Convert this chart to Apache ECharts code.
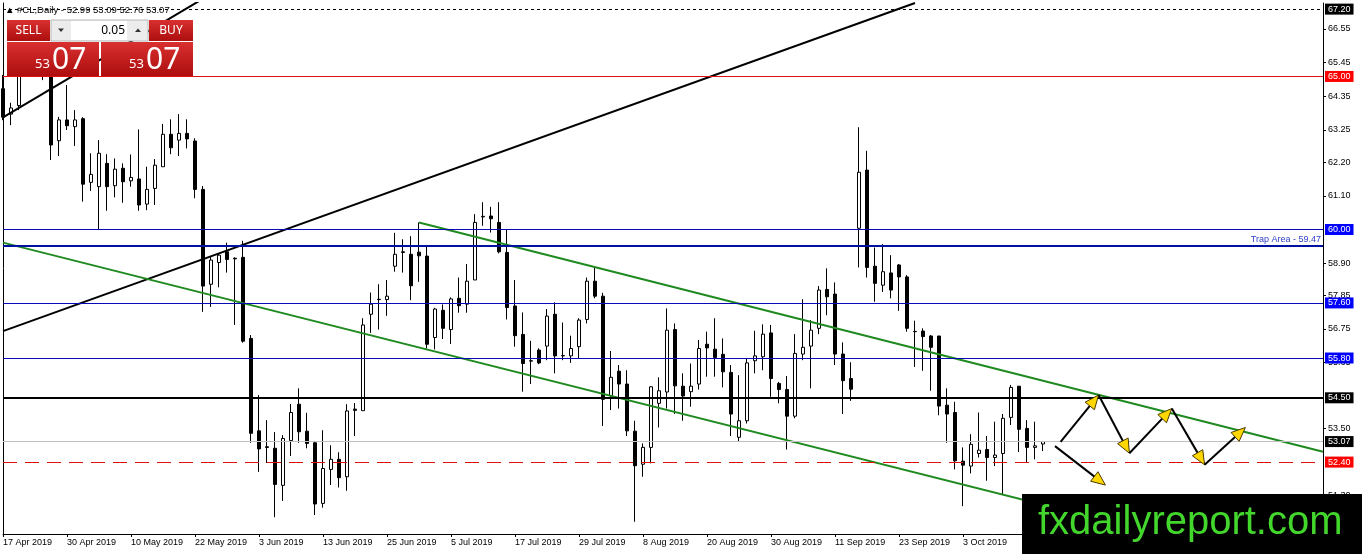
<!DOCTYPE html>
<html><head><meta charset="utf-8">
<script src="https://cdn.jsdelivr.net/npm/echarts@6/dist/echarts.min.js"></script>
<style>html,body{margin:0;padding:0;background:#fff;}#c{width:1362px;height:554px;}</style>
</head><body><div id="c"></div>
<script>
// ---- Data ----
const opens = [64.60,63.77,64.05,65.30,65.60,65.50,65.10,62.90,63.58,63.36, 63.62,61.54,61.40,62.16,61.43,62.00,61.59,61.65,60.83,61.34, 62.05,63.11,62.92,63.14,62.89,61.31,58.21,58.92,59.27,59.06, 59.09,56.44,53.42,52.90,52.85,51.64,53.10,54.29,53.41,53.03, 51.05,52.16,52.49,51.92,54.13,54.08,57.23,57.72,57.71,58.80, 59.27,59.19,59.26,59.13,56.47,57.36,56.73,57.75,57.56,58.35, 60.41,60.44,60.23,59.25,57.50,56.57,55.71,56.06,56.19,57.23, 55.87,55.87,56.17,57.06,58.31,57.82,54.57,55.37,54.95,53.41, 52.33,52.88,54.32,54.69,56.73,54.88,54.70,54.95,56.25,56.09, 55.92,55.33,53.21,53.75,55.71,55.84,56.62,54.97,54.77,53.90, 55.93,56.19,56.77,58.04,57.89,55.93,55.13,60.04,61.94,58.80, 58.18,58.58,58.84,58.45,56.67,56.68,56.52,56.52,54.26,54.02, 52.43,52.27,52.68,52.81,52.55,52.68,53.86,54.88,53.50,52.88, 52.99];
const highs = [65.05,64.14,65.60,65.90,66.10,65.80,65.40,63.68,64.72,63.90, 63.67,62.49,62.92,62.46,62.32,62.16,62.45,63.27,62.05,62.30, 63.45,63.60,63.77,63.60,62.98,61.42,59.11,59.22,59.57,59.09, 59.63,56.55,54.59,53.77,53.38,53.28,54.30,54.81,54.01,53.09, 53.44,52.95,52.72,54.29,54.33,57.10,57.94,58.21,58.35,59.89, 59.68,59.78,60.23,59.46,57.44,57.55,57.78,58.43,58.87,60.50, 60.89,60.74,60.89,60.00,58.35,57.29,56.36,56.12,57.40,57.62, 56.96,56.53,57.10,58.43,58.75,57.93,56.03,55.57,55.40,53.75, 53.01,54.88,55.17,57.42,56.93,55.30,55.62,56.39,56.66,57.10, 56.44,55.57,55.24,55.79,56.69,56.90,56.88,55.02,55.21,56.58, 57.72,57.04,58.15,58.73,58.27,56.31,55.66,63.34,62.57,59.41, 59.52,59.16,58.87,58.51,57.02,56.77,56.55,56.52,54.81,54.37, 52.88,53.31,54.02,53.25,53.72,53.97,54.92,54.88,53.77,53.72, 53.09];
const lows = [63.57,63.41,63.90,65.10,65.20,64.88,62.27,62.40,63.25,62.73, 60.91,61.26,59.98,60.61,61.05,60.87,61.40,60.61,60.63,60.80, 62.05,62.46,62.40,62.65,61.02,57.31,57.47,58.11,58.59,56.88, 56.30,53.03,52.08,52.37,50.60,51.13,52.60,53.03,52.85,50.67, 50.91,51.65,51.57,51.46,53.25,54.08,56.62,56.73,57.18,58.62, 58.59,57.69,58.29,56.11,56.08,56.42,56.26,57.28,57.28,58.35, 60.12,59.90,59.22,57.06,56.17,54.70,54.95,55.60,55.73,55.30, 55.73,55.64,55.79,56.93,57.75,53.58,54.10,54.15,53.25,50.45, 51.92,52.36,53.53,54.15,53.97,53.75,54.21,54.77,55.19,55.19, 54.84,53.25,53.06,53.66,55.30,55.40,54.53,54.32,52.81,53.83, 55.73,54.81,56.58,57.20,55.57,53.97,54.40,58.76,58.43,57.64, 57.96,57.75,57.34,56.66,55.51,55.38,54.73,53.93,53.03,52.16, 50.96,52.03,52.55,51.79,52.27,51.35,53.61,52.73,52.40,52.49, 52.76];
const closes = [63.67,63.97,65.30,65.60,65.40,65.20,62.76,63.58,63.39,63.58, 61.48,61.80,62.49,61.40,61.97,61.56,61.70,60.80,61.31,62.10, 63.11,62.67,63.14,62.96,61.31,58.15,59.00,59.16,59.02,59.04, 56.35,53.34,52.83,52.88,51.67,53.17,54.02,53.39,53.01,51.03, 52.19,52.49,51.89,54.07,54.09,56.88,57.56,57.71,57.82,59.19, 59.25,58.16,59.14,56.25,57.40,56.77,57.73,57.51,58.31,60.23, 60.43,60.35,59.27,57.45,56.53,55.62,55.70,55.64,57.17,55.87, 55.88,56.11,57.04,58.31,57.82,54.45,55.17,54.95,53.42,52.28, 52.88,54.86,54.73,56.71,54.89,54.56,54.88,56.11,56.13,55.82, 55.35,53.97,53.75,55.64,55.87,56.58,55.13,54.77,53.90,55.95, 56.15,56.71,58.02,57.80,55.93,55.06,54.78,61.87,58.76,58.24, 58.62,58.02,58.45,56.77,56.66,56.50,56.15,54.23,53.97,52.44, 52.30,52.98,52.79,52.55,52.63,53.83,54.84,53.47,52.88,52.93, 53.07];

const xTickLabels = ['17 Apr 2019','30 Apr 2019','10 May 2019','22 May 2019','3 Jun 2019','13 Jun 2019','25 Jun 2019','5 Jul 2019','17 Jul 2019','29 Jul 2019','8 Aug 2019','20 Aug 2019','30 Aug 2019','11 Sep 2019','23 Sep 2019','3 Oct 2019','15 Oct 2019'];
const barsPerLabel = 8;
const yTickValues = [66.55,65.45,64.35,63.25,62.20,61.10,58.90,57.85,56.75,55.65,53.50,51.30];

const levelTop = 67.20, level65 = 65.00, level60 = 60.00, trapLevel = 59.47;
const level576 = 57.60, level558 = 55.80, level545 = 54.50, bidPrice = 53.07, level524 = 52.40;

const blackTrendA = [[0, 56.68], [114, 67.40]];
const blackTrendB = [[0, 63.66], [25, 67.54]];
const greenUpper = [[52, 60.23], [165, 52.74]];
const greenLower = [[0, 59.57], [165, 48.70]];
const arrowPaths = [
  [132.2, 53.06, 136.95, 54.59],
  [136.95, 54.59, 140.8, 52.69],
  [140.8, 52.69, 146.1, 54.15],
  [146.1, 54.15, 150.2, 52.31],
  [150.2, 52.31, 155.3, 53.53],
  [131.5, 52.92, 137.8, 51.65]
];
const headerText = '\u25B2 #CL,Daily - 52.99 53.09 52.76 53.07';
const lotSize = '0.05';
const quoteBig = '53', quoteSmall = '07';

// ---- Chart ----
const FONT = 'Liberation Sans, Arial, DejaVu Sans, sans-serif';
const candleData = opens.map((o, i) => [i, o, closes[i], lows[i], highs[i]]);
const Y_MIN = 50.05, Y_MAX = 67.40;
const LINE_BLUE = '#0a0ab4';

function lvl(value, color, width, type, boxColor, text) {
  const item = { yAxis: value, lineStyle: { color: color, width: width, type: type } };
  if (boxColor) {
    item.label = { show: true, position: 'end', distance: 2, formatter: value.toFixed(2),
      backgroundColor: boxColor, color: '#fff', fontSize: 9, fontFamily: FONT,
      padding: [1, 3, 0, 3], lineHeight: 10 };
  } else if (text) {
    item.label = { show: true, position: 'insideEndTop', distance: 2, formatter: text,
      color: '#3040c8', fontSize: 9, fontFamily: FONT };
  } else {
    item.label = { show: false };
  }
  return item;
}

const redGrad = () => new echarts.graphic.LinearGradient(0, 0, 0, 1, [
  { offset: 0, color: '#d93030' }, { offset: 1, color: '#ad0e0e' }]);

const chart = echarts.init(document.getElementById('c'), null, { renderer: 'canvas' });
chart.setOption({
  animation: false,
  backgroundColor: '#fff',
  grid: { left: 3, right: 39, top: 3, bottom: 20, containLabel: false, outerBoundsMode: 'none' },
  xAxis: {
    type: 'value', min: 0, max: 165, interval: barsPerLabel,
    axisLine: { show: true, onZero: false, lineStyle: { color: '#000', width: 1 } },
    axisTick: { show: true, length: 3, lineStyle: { color: '#000' } },
    axisLabel: { show: true, align: 'left', margin: 4, fontSize: 9, fontFamily: FONT, color: '#000',
      showMinLabel: true, showMaxLabel: false, hideOverlap: false,
      formatter: v => { const k = Math.round(v / barsPerLabel); return (v % barsPerLabel === 0 && xTickLabels[k]) ? xTickLabels[k] : ''; } },
    splitLine: { show: false }
  },
  yAxis: [{
    type: 'value', position: 'right', min: Y_MIN, max: Y_MAX,
    axisLine: { show: true, onZero: false, lineStyle: { color: '#000', width: 1 } },
    axisTick: { show: true, length: 3, customValues: yTickValues, lineStyle: { color: '#000' } },
    axisLabel: { show: true, margin: 5, fontSize: 9, fontFamily: FONT, color: '#000',
      customValues: yTickValues, formatter: v => Number(v).toFixed(2) },
    splitLine: { show: false }
  }, {
    type: 'value', position: 'left', min: Y_MIN, max: Y_MAX,
    axisLine: { show: true, onZero: false, lineStyle: { color: '#000', width: 1 } },
    axisTick: { show: false }, axisLabel: { show: false }, splitLine: { show: false }
  }],
  series: [
    {
      type: 'candlestick', data: candleData, encode: { x: 0, y: [1, 2, 3, 4] },
      barWidth: 4, clip: true, silent: true,
      itemStyle: { color: '#fff', color0: '#000', borderColor: '#000', borderColor0: '#000', borderWidth: 1 },
      markLine: {
        silent: true, symbol: ['none', 'none'], animation: false, precision: 2,
        data: [
          lvl(levelTop, '#000', 1, [3, 3], '#000'),
          lvl(level65, '#e01010', 1, 'solid', '#ff0000'),
          lvl(level60, LINE_BLUE, 1, 'solid', '#0000ff'),
          lvl(trapLevel, '#0010a0', 2, 'solid', null, 'Trap Area - ' + trapLevel.toFixed(2)),
          lvl(level576, LINE_BLUE, 1, 'solid', '#0000ff'),
          lvl(level558, LINE_BLUE, 1, 'solid', '#0000ff'),
          lvl(level545, '#000', 2, 'solid', '#000'),
          lvl(bidPrice, '#c0c0c0', 1, 'solid', '#000'),
          lvl(level524, '#e01010', 1, [14, 8], '#ff0000')
        ]
      }
    },
    { type: 'line', data: blackTrendA, symbol: 'none', silent: true, clip: true, z: 4, lineStyle: { color: '#000', width: 2 } },
    { type: 'line', data: blackTrendB, symbol: 'none', silent: true, clip: true, z: 4, lineStyle: { color: '#000', width: 2 } },
    { type: 'line', data: greenUpper, symbol: 'none', silent: true, clip: true, z: 4, lineStyle: { color: '#1f8a1f', width: 2 } },
    { type: 'line', data: greenLower, symbol: 'none', silent: true, clip: true, z: 4, lineStyle: { color: '#1f8a1f', width: 2 } },
    {
      type: 'custom', data: arrowPaths, encode: { x: [0, 2], y: [1, 3] }, silent: true, z: 6, clip: false,
      renderItem: function (params, api) {
        const a = api.coord([api.value(0), api.value(1)]);
        const b = api.coord([api.value(2), api.value(3)]);
        const dx = b[0] - a[0], dy = b[1] - a[1], len = Math.hypot(dx, dy) || 1;
        const ux = dx / len, uy = dy / len, L = 14, W = 6;
        const bx = b[0] - ux * L, by = b[1] - uy * L;
        return { type: 'group', children: [
          { type: 'line', shape: { x1: a[0], y1: a[1], x2: b[0] - ux * 4, y2: b[1] - uy * 4 }, style: { stroke: '#000', lineWidth: 2 } },
          { type: 'polygon', shape: { points: [[b[0], b[1]], [bx - uy * W, by + ux * W], [bx + uy * W, by - ux * W]] },
            style: { fill: '#ffd700', stroke: '#4a3c00', lineWidth: 1 } }
        ] };
      }
    }
  ],
  graphic: [
    { type: 'text', left: 5, top: 5, z: 100, style: { text: headerText, fill: '#000', font: '9.5px ' + FONT } },
    // trade panel
    { type: 'rect', z: 100, shape: { x: 7, y: 20, width: 43, height: 21 }, style: { fill: redGrad() } },
    { type: 'text', z: 101, style: { x: 28.5, y: 30.5, text: 'SELL', fill: '#fff', font: '12px Noto Sans, ' + FONT, align: 'center', verticalAlign: 'middle' } },
    { type: 'rect', z: 100, shape: { x: 51, y: 20, width: 97, height: 21 }, style: { fill: '#ececec', stroke: '#b8b8b8', lineWidth: 1 } },
    { type: 'rect', z: 101, shape: { x: 71, y: 21, width: 56, height: 19 }, style: { fill: '#fff' } },
    { type: 'polygon', z: 101, shape: { points: [[58, 28.5], [64, 28.5], [61, 32]] }, style: { fill: '#333' } },
    { type: 'polygon', z: 101, shape: { points: [[135, 32], [141, 32], [138, 28.5]] }, style: { fill: '#333' } },
    { type: 'text', z: 102, style: { x: 125, y: 30.5, text: lotSize, fill: '#000', font: '12px Noto Sans, ' + FONT, align: 'right', verticalAlign: 'middle' } },
    { type: 'rect', z: 100, shape: { x: 149, y: 20, width: 44, height: 21 }, style: { fill: redGrad() } },
    { type: 'text', z: 101, style: { x: 171, y: 30.5, text: 'BUY', fill: '#fff', font: '12px Noto Sans, ' + FONT, align: 'center', verticalAlign: 'middle' } },
    { type: 'rect', z: 100, shape: { x: 7, y: 42, width: 92, height: 34 }, style: { fill: redGrad() } },
    { type: 'rect', z: 100, shape: { x: 101, y: 42, width: 92, height: 34 }, style: { fill: redGrad() } },
    { type: 'text', z: 101, style: { x: 35, y: 71, text: quoteBig, fill: '#fff', font: '13px Noto Sans, ' + FONT, align: 'left', verticalAlign: 'bottom' } },
    { type: 'text', z: 101, style: { x: 52, y: 75, text: quoteSmall, fill: '#fff', font: '30px Noto Sans, ' + FONT, align: 'left', verticalAlign: 'bottom' } },
    { type: 'text', z: 101, style: { x: 129, y: 71, text: quoteBig, fill: '#fff', font: '13px Noto Sans, ' + FONT, align: 'left', verticalAlign: 'bottom' } },
    { type: 'text', z: 101, style: { x: 146, y: 75, text: quoteSmall, fill: '#fff', font: '30px Noto Sans, ' + FONT, align: 'left', verticalAlign: 'bottom' } },
    // watermark
    { type: 'rect', z: 110, shape: { x: 1022, y: 494, width: 340, height: 60 }, style: { fill: '#000' } },
    { type: 'text', z: 111, style: { x: 1038, y: 523, text: 'fxdailyreport.com', fill: '#43d62c', font: '40px ' + FONT, align: 'left', verticalAlign: 'middle' } }
  ]
});
</script>
</body></html>
